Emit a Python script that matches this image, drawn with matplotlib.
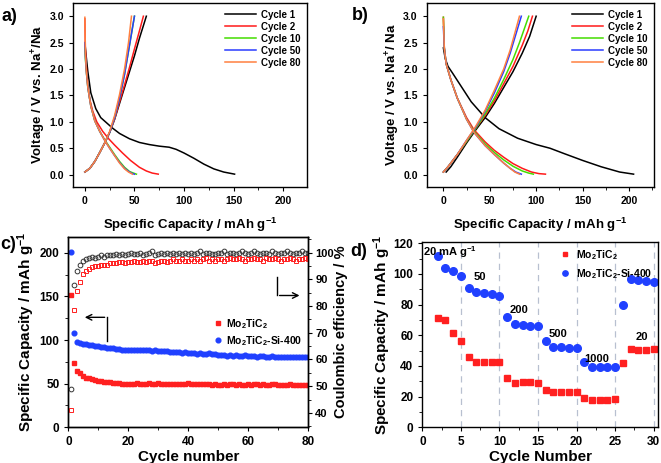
import numpy as np
import matplotlib
matplotlib.use('Agg')
import matplotlib.pyplot as plt
from matplotlib.ticker import MultipleLocator

plt.rcParams['font.family'] = ['Liberation Sans', 'DejaVu Sans']
plt.rcParams['font.weight'] = 'bold'
plt.rcParams['axes.labelweight'] = 'bold'
plt.rcParams['mathtext.fontset'] = 'custom'
plt.rcParams['mathtext.rm'] = 'Liberation Sans:bold'
plt.rcParams['mathtext.it'] = 'Liberation Sans:bold'
plt.rcParams['mathtext.bf'] = 'Liberation Sans:bold'
plt.rcParams['mathtext.default'] = 'rm'
plt.rcParams['xtick.direction'] = 'out'
plt.rcParams['ytick.direction'] = 'out'
plt.rcParams['axes.linewidth'] = 1.0

# ---------------- data ----------------
cycle_labels = ['Cycle 1', 'Cycle 2', 'Cycle 10', 'Cycle 50', 'Cycle 80']
cycle_colors = ['black', '#ff1a1a', '#44dd00', '#2a3cff', '#ff8040']

# panel a: Mo2TiC2 discharge / charge curves (capacity, voltage)
a_dis_cap = [
    [0, 1, 3, 6, 11, 16, 22, 28, 35, 45, 55, 65, 75, 85, 92, 100, 110, 120, 130, 140, 151],
    [0, 0.5, 1.5, 3, 5, 8, 12, 18, 24, 30, 38, 46, 55, 62, 68, 74],
    [0, 0.5, 1.5, 3, 6, 10, 15, 20, 25, 30, 35, 40, 45, 49, 52],
    [0, 0.5, 1.5, 3, 6, 10, 15, 20, 25, 30, 35, 40, 45, 48, 50],
    [0, 0.5, 1.5, 3, 6, 10, 15, 20, 25, 30, 35, 40, 44, 46, 48],
]
a_dis_v = [
    [2.5, 2.3, 1.95, 1.55, 1.25, 1.08, 0.98, 0.88, 0.78, 0.68, 0.61, 0.57, 0.54, 0.52, 0.48, 0.41, 0.31, 0.2, 0.11, 0.05, 0.01],
    [2.95, 2.4, 2.05, 1.7, 1.42, 1.2, 1.0, 0.82, 0.68, 0.56, 0.41, 0.27, 0.14, 0.07, 0.03, 0.01],
    [2.4, 2.2, 1.95, 1.65, 1.3, 1.02, 0.82, 0.66, 0.52, 0.38, 0.25, 0.14, 0.06, 0.03, 0.01],
    [2.5, 2.25, 1.95, 1.65, 1.3, 1.02, 0.82, 0.65, 0.5, 0.36, 0.23, 0.12, 0.05, 0.02, 0.01],
    [2.98, 2.3, 1.95, 1.65, 1.3, 1.02, 0.82, 0.65, 0.5, 0.36, 0.22, 0.11, 0.05, 0.03, 0.01],
]
a_chg_cap = [
    [0, 5, 10, 15, 20, 25, 30, 35, 40, 45, 50, 55, 62],
    [0, 5, 10, 15, 20, 25, 30, 35, 40, 45, 50, 55, 59],
    [0, 5, 10, 15, 20, 25, 30, 35, 40, 45, 50],
    [0, 5, 10, 15, 20, 25, 30, 35, 40, 45, 50],
    [0, 5, 10, 15, 20, 25, 30, 35, 40, 44, 47],
]
a_chg_v = [
    [0.05, 0.12, 0.25, 0.42, 0.6, 0.8, 1.05, 1.35, 1.65, 1.95, 2.25, 2.58, 3.0],
    [0.05, 0.12, 0.25, 0.42, 0.6, 0.8, 1.05, 1.38, 1.7, 2.03, 2.38, 2.72, 3.0],
    [0.05, 0.12, 0.25, 0.42, 0.6, 0.8, 1.08, 1.45, 1.9, 2.45, 3.0],
    [0.05, 0.12, 0.25, 0.42, 0.6, 0.8, 1.08, 1.45, 1.9, 2.45, 3.0],
    [0.05, 0.12, 0.25, 0.42, 0.6, 0.82, 1.12, 1.52, 2.0, 2.5, 3.0],
]

# panel b: Mo2TiC2-Si-400 discharge / charge curves
b_dis_cap = [
    [0, 2, 5, 10, 20, 30, 45, 60, 80, 100, 115, 130, 150, 170, 190, 205],
    [0, 1, 3, 8, 15, 25, 33, 45, 55, 65, 75, 85, 95, 103, 110],
    [0, 1, 3, 8, 15, 25, 33, 45, 55, 65, 75, 85, 92, 97],
    [0, 1, 3, 8, 15, 25, 33, 45, 55, 65, 72, 78, 84],
    [0, 1, 3, 8, 15, 25, 33, 45, 55, 65, 72, 77, 82],
]
b_dis_v = [
    [2.4, 2.2, 2.05, 1.92, 1.65, 1.38, 1.08, 0.87, 0.69, 0.57, 0.5, 0.4, 0.27, 0.15, 0.05, 0.01],
    [2.98, 2.4, 2.1, 1.8, 1.45, 1.08, 0.85, 0.62, 0.46, 0.33, 0.21, 0.12, 0.05, 0.02, 0.01],
    [2.98, 2.4, 2.1, 1.8, 1.45, 1.05, 0.82, 0.58, 0.42, 0.28, 0.16, 0.07, 0.03, 0.01],
    [2.8, 2.4, 2.1, 1.8, 1.45, 1.05, 0.8, 0.55, 0.38, 0.22, 0.12, 0.05, 0.01],
    [2.95, 2.4, 2.1, 1.8, 1.45, 1.05, 0.8, 0.55, 0.38, 0.22, 0.12, 0.05, 0.01],
]
b_chg_cap = [
    [3, 8, 15, 25, 35, 45, 55, 65, 75, 85, 93, 100],
    [0, 5, 15, 25, 35, 45, 55, 65, 75, 85, 91, 96],
    [0, 5, 15, 25, 35, 45, 55, 65, 75, 82, 88, 92],
    [0, 5, 15, 25, 35, 45, 55, 65, 72, 78, 84],
    [0, 5, 15, 25, 35, 45, 55, 65, 72, 77, 82],
]
b_chg_v = [
    [0.05, 0.15, 0.33, 0.6, 0.85, 1.08, 1.35, 1.65, 1.95, 2.3, 2.62, 3.0],
    [0.05, 0.15, 0.38, 0.63, 0.88, 1.12, 1.4, 1.72, 2.05, 2.45, 2.72, 3.0],
    [0.05, 0.15, 0.38, 0.63, 0.88, 1.15, 1.45, 1.8, 2.18, 2.5, 2.8, 3.0],
    [0.05, 0.15, 0.38, 0.65, 0.9, 1.2, 1.55, 1.95, 2.3, 2.65, 3.0],
    [0.05, 0.15, 0.38, 0.65, 0.92, 1.22, 1.6, 2.0, 2.36, 2.68, 3.0],
]

# panel c: cycling at 20 mA g-1
c_cycle = list(range(1, 81))
c_cap_mo = [151, 74, 65, 62, 59, 57, 56, 55, 54, 53,
            53, 52, 52, 52, 51, 51, 51, 50, 50, 50,
            50, 50, 51, 50, 50, 50, 51, 50, 50, 51,
            50, 50, 50, 50, 50, 50, 50, 50, 50, 51,
            50, 50, 50, 50, 50, 50, 50, 49, 50, 49,
            49, 50, 49, 50, 50, 49, 50, 49, 49, 50,
            49, 50, 50, 49, 50, 49, 49, 50, 50, 49,
            49, 49, 49, 50, 49, 49, 48, 49, 48, 48]
c_cap_si = [201, 108, 98, 97, 96, 95, 94, 94, 93, 93,
            92, 92, 91, 91, 91, 90, 90, 89, 89, 89,
            89, 88, 88, 89, 88, 88, 88, 87, 88, 87,
            87, 87, 87, 86, 86, 86, 86, 85, 86, 85,
            85, 85, 84, 85, 84, 84, 85, 84, 84, 83,
            83, 83, 82, 83, 82, 83, 82, 82, 83, 82,
            82, 82, 81, 82, 82, 81, 81, 82, 81, 81,
            81, 81, 80, 81, 80, 80, 81, 80, 80, 80]
c_ce_mo = [41, 78.5, 85.5, 89, 92, 93, 94, 94.5, 95, 95,
           95.5, 95.5, 95.5, 96, 96, 96, 96.5, 96.5, 96, 96.5,
           96.5, 97, 96.5, 96.5, 97, 96.5, 97, 97, 96, 96.5,
           97, 97, 96.5, 97, 97.5, 97, 97, 97.5, 97, 97,
           97.5, 97, 97.5, 97, 97.5, 98, 97, 97.5, 97, 97.5,
           97.5, 97, 97.5, 98, 97.5, 97.5, 98, 97.5, 97, 97.5,
           97.5, 98, 97.5, 97.5, 97, 98, 97.5, 97.5, 98, 97.5,
           97, 97.5, 97.5, 98, 97.5, 97, 97.5, 97.5, 98, 97.5]
c_ce_si = [49, 88, 93, 95.5, 97, 97.5, 98, 98.5, 98, 98.5,
           99, 98.5, 99, 99, 99, 99.5, 99, 99.5, 99, 99.5,
           100, 99.5, 99.5, 100, 99, 99.5, 100, 100.5, 99, 99.5,
           100, 99.5, 100, 99.5, 100, 99.5, 100, 99.5, 100, 99.5,
           100, 99.5, 100, 100.5, 99.5, 100, 100, 99.5, 99.5, 100,
           100, 100.5, 99.5, 100, 100, 99.5, 100, 100.5, 100, 99.5,
           100, 100.5, 100, 99.5, 100, 100, 99.5, 100.5, 100, 99.5,
           100, 100, 100.5, 100, 99.5, 100, 100, 100.5, 100, 100]

# panel d: rate performance
d_cycle = list(range(2, 31))
d_cap_mo = [71, 70.2, 61.3, 56.3, 46, 42.5, 42.5, 42.5, 42.5,
            32.3, 29, 29.5, 29.5, 29, 24.5, 22.7, 22.7, 22.7, 22.7,
            18.8, 18, 18, 18, 18.2, 41.6, 51.3, 50.7, 50.7, 51]
d_cap_si = [111.5, 104, 102, 98.8, 91, 88, 87.5, 87, 85.8,
            72, 67, 66.5, 66.3, 66.3, 56, 52.4, 52.2, 52, 51.8,
            42.7, 39.6, 39.4, 39.2, 39, 80, 96.4, 95.7, 95.5, 95]
d_rate_bounds = [5, 10, 15, 20, 25, 30]
d_rate_text = ['20 mA g$^{-1}$', '50', '200', '500', '1000', '20']
d_rate_xy = [(0.05, 114.5), (7.5, 98), (12.6, 76.2), (17.6, 61), (22.6, 44.8), (28.5, 58.9)]

red_c = '#ff2020'
blue_c = '#2040ff'

fig = plt.figure(figsize=(6.61, 4.63), dpi=100)
ax_a = fig.add_axes([0.1104, 0.5965, 0.354, 0.3970])
ax_b = fig.add_axes([0.6455, 0.5965, 0.3439, 0.3970])
ax_c = fig.add_axes([0.1036, 0.0771, 0.3628, 0.4110])
ax_d = fig.add_axes([0.6389, 0.0771, 0.3570, 0.4010])


def galvano(ax, dis_cap, dis_v, chg_cap, chg_v, xlim, ylabel):
    for i in range(len(cycle_labels)):
        ax.plot(dis_cap[i], dis_v[i], color=cycle_colors[i], lw=1.1, label=cycle_labels[i])
        ax.plot(chg_cap[i], chg_v[i], color=cycle_colors[i], lw=1.1)
    ax.set_xlim(*xlim)
    ax.set_ylim(-0.23, 3.25)
    ax.xaxis.set_major_locator(MultipleLocator(50))
    ax.xaxis.set_minor_locator(MultipleLocator(25))
    ax.yaxis.set_major_locator(MultipleLocator(0.5))
    ax.yaxis.set_major_formatter(matplotlib.ticker.FormatStrFormatter('%.1f'))
    ax.tick_params(labelsize=7.5, length=3)
    ax.tick_params(which='minor', length=2)
    ax.set_xlabel('Specific Capacity / mAh g$^{-1}$', fontsize=9.5, labelpad=7)
    ax.set_ylabel(ylabel, fontsize=9.5, labelpad=1)
    ax.legend(loc='upper right', frameon=False, fontsize=7, handlelength=3.2,
              labelspacing=0.2, borderaxespad=0.3, handletextpad=0.5)


galvano(ax_a, a_dis_cap, a_dis_v, a_chg_cap, a_chg_v, (-12, 224),
        'Voltage / V vs. Na$^{+}$/Na')
galvano(ax_b, b_dis_cap, b_dis_v, b_chg_cap, b_chg_v, (-18, 227),
        'Voltage / V vs. Na$^{+}$/ Na')

# panel c
ax_c.plot(c_cycle, c_cap_mo, 's', color=red_c, ms=3.2, mec=red_c, label='Mo$_2$TiC$_2$')
ax_c.plot(c_cycle, c_cap_si, 'o', color=blue_c, ms=3.4, mec=blue_c, label='Mo$_2$TiC$_2$-Si-400')
ax_c.set_xlim(0, 80)
ax_c.set_ylim(0, 218)
ax_c.xaxis.set_major_locator(MultipleLocator(20))
ax_c.xaxis.set_minor_locator(MultipleLocator(10))
ax_c.yaxis.set_major_locator(MultipleLocator(50))
ax_c.yaxis.set_minor_locator(MultipleLocator(25))
ax_c.tick_params(labelsize=8.5, length=3)
ax_c.tick_params(which='minor', length=2)
ax_c.set_xlabel('Cycle number', fontsize=11, labelpad=1)
ax_c.set_ylabel('Specific Capacity / mAh g$^{-1}$', fontsize=11, labelpad=2)
ax_c.legend(loc='center left', bbox_to_anchor=(0.565, 0.5), frameon=False, fontsize=7.5,
            handlelength=0.8, handletextpad=0.4, labelspacing=0.3)

ax_c2 = ax_c.twinx()
ax_c2.plot(c_cycle, c_ce_si, 'o', mfc='none', mec='#333333', ms=3.4, mew=0.7)
ax_c2.plot(c_cycle, c_ce_mo, 's', mfc='none', mec=red_c, ms=3.2, mew=0.7)
ax_c2.set_ylim(34.6, 105.8)
ax_c2.yaxis.set_major_locator(MultipleLocator(10))
ax_c2.yaxis.set_minor_locator(MultipleLocator(5))
ax_c2.tick_params(labelsize=8, length=3, pad=2)
ax_c2.tick_params(which='minor', length=2)
ax_c2.set_ylabel('Coulombic efficiency / %', fontsize=10.5, labelpad=0)

# arrows pointing to the axes
ax_c.plot([13, 13], [99, 126], color='black', lw=1.0)
ax_c.annotate('', xy=(4.5, 126), xytext=(13, 126),
              arrowprops=dict(arrowstyle='->', color='black', lw=1.0))
ax_c.plot([69.5, 69.5], [172, 151], color='black', lw=1.0)
ax_c.annotate('', xy=(78, 151), xytext=(69.5, 151),
              arrowprops=dict(arrowstyle='->', color='black', lw=1.0))

# panel d
for xb in d_rate_bounds:
    ax_d.axvline(xb, color='#b8c0d0', lw=0.9, ls=(0, (5, 4)), zorder=0)
ax_d.plot(d_cycle, d_cap_mo, 's', color=red_c, ms=5, label='Mo$_2$TiC$_2$')
ax_d.plot(d_cycle, d_cap_si, 'o', color=blue_c, ms=5.5, label='Mo$_2$TiC$_2$-Si-400')
for t, (tx, ty) in zip(d_rate_text, d_rate_xy):
    ha = 'left' if t.startswith('20 mA') else 'center'
    ax_d.text(tx, ty, t, fontsize=8, ha=ha, va='center')
ax_d.set_xlim(0, 30.6)
ax_d.set_ylim(0, 121)
ax_d.xaxis.set_major_locator(MultipleLocator(5))
ax_d.xaxis.set_minor_locator(MultipleLocator(2.5))
ax_d.yaxis.set_major_locator(MultipleLocator(20))
ax_d.yaxis.set_minor_locator(MultipleLocator(10))
ax_d.tick_params(labelsize=8.5, length=3)
ax_d.tick_params(which='minor', length=2)
ax_d.set_xlabel('Cycle Number', fontsize=11, labelpad=1)
ax_d.set_ylabel('Specific Capacity / mAh g$^{-1}$', fontsize=11, labelpad=0)
ax_d.legend(loc='upper left', bbox_to_anchor=(0.56, 1.0), frameon=False, fontsize=7.5,
            handlelength=0.8, handletextpad=0.7, labelspacing=0.5, borderaxespad=0.2,
            markerscale=0.7)

# panel letters
fig.text(0.003, 0.964, 'a)', fontsize=13, weight='bold', va='center')
fig.text(0.532, 0.967, 'b)', fontsize=13, weight='bold', va='center')
fig.text(0.0, 0.471, 'c)', fontsize=13, weight='bold', va='center')
fig.text(0.530, 0.457, 'd)', fontsize=13, weight='bold', va='center')

fig.savefig('out.png', dpi=100)
